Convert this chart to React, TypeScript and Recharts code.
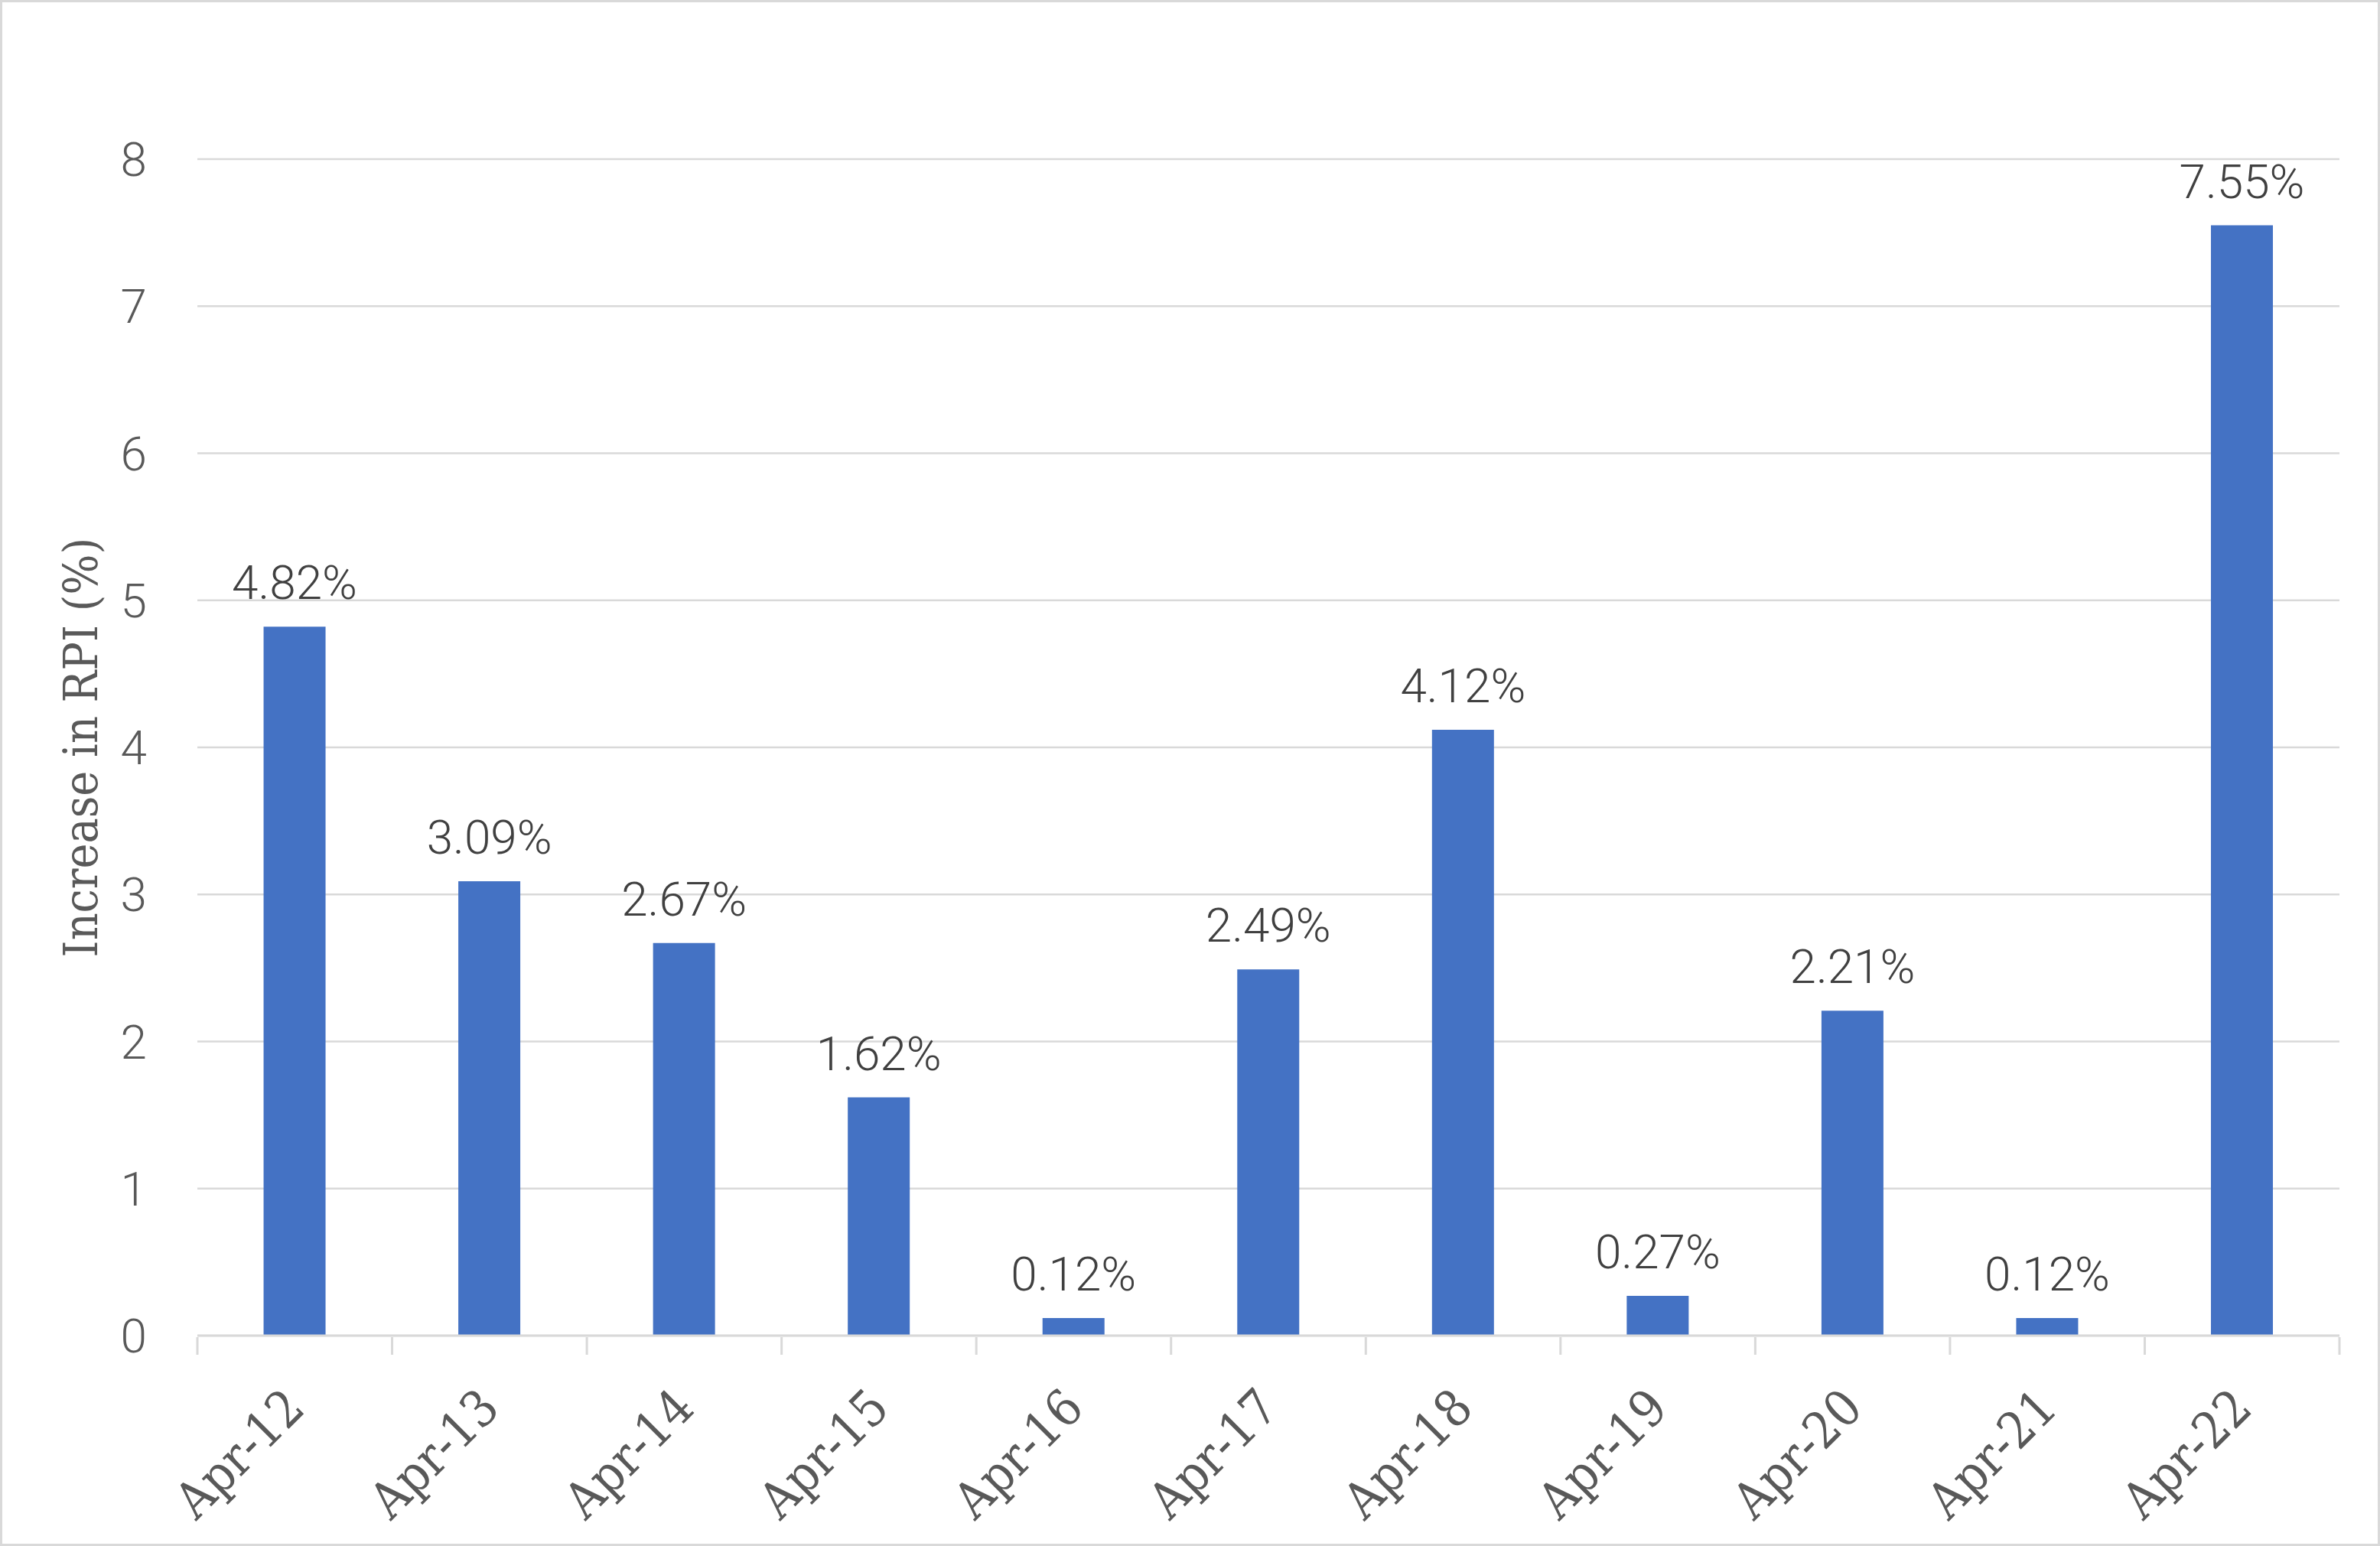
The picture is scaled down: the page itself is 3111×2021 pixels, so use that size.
import { BarChart, Bar, XAxis, YAxis, CartesianGrid, LabelList, Label } from "recharts";

const categories = ["Apr-12", "Apr-13", "Apr-14", "Apr-15", "Apr-16", "Apr-17", "Apr-18", "Apr-19", "Apr-20", "Apr-21", "Apr-22"];
const rpiIncrease = [4.82, 3.09, 2.67, 1.62, 0.12, 2.49, 4.12, 0.27, 2.21, 0.12, 7.55];
const yTicks = [0, 1, 2, 3, 4, 5, 6, 7, 8];

const data = categories.map((name, i) => ({ name, value: rpiIncrease[i] }));

const W = 3111;
const H = 2021;
const GRID = "#D9D9D9";
const BLUE = "#4472C4";
const NUM_FONT = "Roboto, 'Noto Sans', sans-serif";
const SLAB_FONT = "'DejaVu Serif Condensed', 'DejaVu Serif', serif";

function CategoryTick(props: any) {
  const { x, y, payload, index, visibleTicksCount, width } = props;
  const half = payload.offset || width / visibleTicksCount / 2;
  const last = index === visibleTicksCount - 1;
  const tx = x + 16;
  const ty = y + 96;
  return (
    <g>
      <line x1={x - half} y1={y} x2={x - half} y2={y + 23} stroke={GRID} strokeWidth={3} />
      {last && <line x1={x + half} y1={y} x2={x + half} y2={y + 23} stroke={GRID} strokeWidth={3} />}
      <text
        x={tx}
        y={ty}
        transform={`rotate(-45, ${tx}, ${ty})`}
        textAnchor="end"
        fill="#595959"
        fontFamily={SLAB_FONT}
        fontSize={66}
      >
        {payload.value}
      </text>
    </g>
  );
}

function AxisTitle(props: any) {
  const { viewBox } = props;
  const cx = viewBox.x + 47;
  const cy = viewBox.y + viewBox.height / 2;
  return (
    <text
      x={cx}
      y={cy}
      transform={`rotate(-90, ${cx}, ${cy})`}
      textAnchor="middle"
      dominantBaseline="central"
      fill="#595959"
      fontFamily={SLAB_FONT}
      fontSize={62}
    >
      Increase in RPI (%)
    </text>
  );
}

export default function App() {
  return (
    <div
      style={{
        position: "fixed",
        left: 0,
        top: 0,
        width: W,
        height: H,
        background: "#fff",
        boxSizing: "border-box",
        border: `3px solid ${GRID}`,
      }}
    >
      <BarChart
        width={W - 6}
        height={H - 6}
        data={data}
        margin={{ top: 205, right: 50, bottom: 0, left: 55 }}
        barCategoryGap="34%"
      >
        <CartesianGrid vertical={false} stroke={GRID} strokeWidth={2.5} />
        <XAxis
          dataKey="name"
          interval={0}
          height={272}
          tickLine={false}
          tickSize={0}
          axisLine={{ stroke: GRID, strokeWidth: 3 }}
          tick={<CategoryTick />}
        />
        <YAxis
          domain={[0, 8]}
          ticks={yTicks}
          width={200}
          axisLine={false}
          tickLine={false}
          tickSize={0}
          tickMargin={66}
          tick={{ fill: "#595959", fontFamily: NUM_FONT, fontSize: 62, fontWeight: 300 }}
        >
          <Label content={<AxisTitle />} />
        </YAxis>
        <Bar dataKey="value" fill={BLUE} isAnimationActive={false}>
          <LabelList
            dataKey="value"
            position="top"
            offset={36}
            formatter={(v: any) => `${Number(v).toFixed(2)}%`}
            fill="#404040"
            fontFamily={NUM_FONT}
            fontSize={62}
            fontWeight={300}
          />
        </Bar>
      </BarChart>
    </div>
  );
}
